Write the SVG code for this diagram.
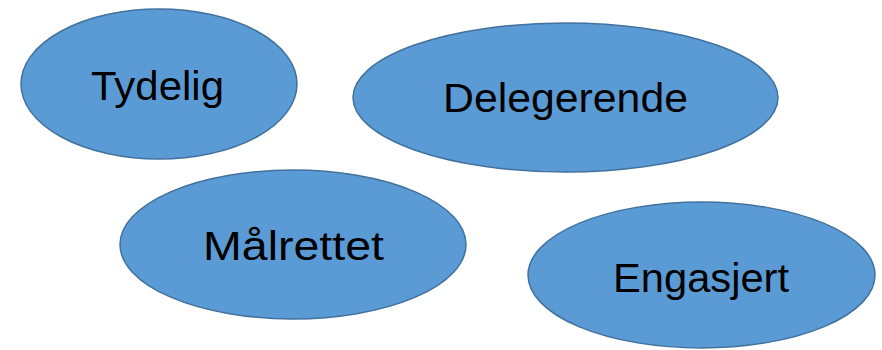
<svg xmlns="http://www.w3.org/2000/svg" width="882" height="350" viewBox="0 0 882 350">
  <style>
    .shape { fill: #5B9BD5; stroke: #41719C; stroke-width: 1.5; }
    .label { font-family: "Liberation Sans", Arial, sans-serif; font-size: 40px; fill: #000; text-anchor: middle; }
  </style>
  <rect width="882" height="350" fill="#ffffff"/>
  <g id="connectors"/>
  <g id="node-tydelig">
    <ellipse class="shape" cx="159" cy="84" rx="138" ry="75"/>
    <text class="label" x="157.5" y="100" textLength="133" lengthAdjust="spacingAndGlyphs">Tydelig</text>
  </g>
  <g id="node-delegerende">
    <ellipse class="shape" cx="565.5" cy="97.5" rx="212.5" ry="74.5"/>
    <text class="label" x="565.5" y="112" textLength="245" lengthAdjust="spacingAndGlyphs">Delegerende</text>
  </g>
  <g id="node-malrettet">
    <ellipse class="shape" cx="293" cy="244.5" rx="173" ry="74.5"/>
    <text class="label" x="293.5" y="260" textLength="181" lengthAdjust="spacingAndGlyphs">Målrettet</text>
  </g>
  <g id="node-engasjert">
    <ellipse class="shape" cx="701.5" cy="275" rx="173.5" ry="73"/>
    <text class="label" x="701" y="292" textLength="176" lengthAdjust="spacingAndGlyphs">Engasjert</text>
  </g>
</svg>
